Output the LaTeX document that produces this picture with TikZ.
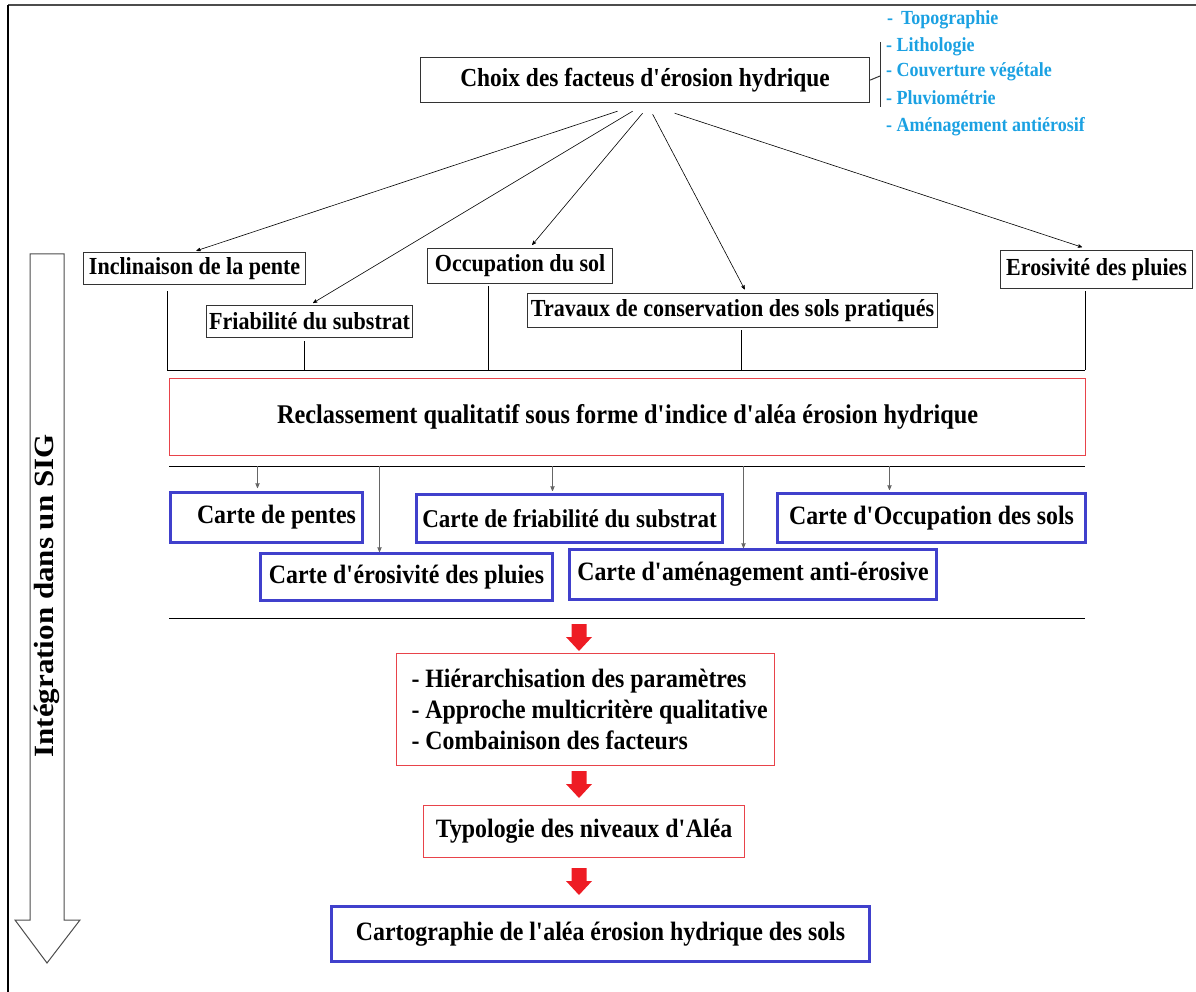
\documentclass[tikz,border=0pt]{standalone}
\usepackage{fontspec}
\setmainfont{Liberation Serif}[FakeStretch=0.9]
\usetikzlibrary{positioning, arrows, calc}
\definecolor{listblue}{HTML}{1BA1E2}
\definecolor{boxblue}{HTML}{4040CC}
\definecolor{boxred}{HTML}{E8434A}
\definecolor{arrred}{HTML}{EE1C24}
\newcommand{\ap}{\textquotesingle}

\begin{document}
\begin{tikzpicture}[x=1pt, y=-1pt, >=stealth',
    every node/.style={font=\bfseries\fontsize{26.5}{31}\selectfont, inner sep=0pt},
    small/.style={font=\bfseries\fontsize{24.5}{30}\selectfont},
    sz/.style 2 args={minimum width=#1pt, minimum height=#2pt},
    blk/.style={draw=black!80, line width=1.2pt, anchor=north west, small},
    redbox/.style={draw=boxred, line width=1.2pt, anchor=north west},
    bluebox/.style={draw=boxblue, line width=3pt, anchor=north west},
    item/.style={anchor=west, text=listblue, font=\bfseries\fontsize{20}{24}\selectfont},
    feed/.style={->, black, line width=0.6pt, shorten >=4pt},
    tick/.style={->, gray!80!black, line width=0.8pt},
    downarrow/.pic={\fill[arrred] (-7.5,0) -- (7.5,0) -- (7.5,13) -- (13,13) -- (0,27) -- (-13,13) -- (-7.5,13) -- cycle;}
  ]
  \useasboundingbox (0,0) rectangle (1196,992);

  % frame
  \draw[gray!60!black, line width=2pt] (8,5) -- (1196,5);
  \draw[line width=1.5pt] (8,5) -- (8,992);

  % factors
  \node[blk, sz={449}{45}, font=\bfseries\fontsize{26}{31}\selectfont] (choix) at (420,57) {Choix des facteus d\ap érosion hydrique};
  \coordinate (brk) at (880,76);
  \coordinate (brktop) at (880,42);
  \coordinate (brkbot) at (880,107);
  \draw[black!80, line width=1pt] (choix.east) -- (brk);
  \draw[black!80, line width=1pt] (brktop) -- (brkbot);
  \node[item] (topo) at (887,20) {-~\,Topographie};
  \node[item] (litho) at (886,47) {- Lithologie};
  \node[item] (couv) at (886,72) {- Couverture végétale};
  \node[item] (pluvio) at (886,98) {- Pluviométrie};
  \node[item] (amen) at (886,127) {- Aménagement antiérosif};

  % first row
  \node[blk, sz={222}{32}] (incl) at (83,252) {Inclinaison de la pente};
  \node[blk, sz={206}{32}] (friab) at (206,305) {Friabilité du substrat};
  \node[blk, sz={185}{35}] (occ) at (427,248) {Occupation du sol};
  \node[blk, sz={410}{34}] (trav) at (527,293) {Travaux de conservation des sols pratiqués};
  \node[blk, sz={192}{38}] (eros) at (1000,250) {Erosivité des pluies};

  \draw[feed] ([xshift=-27.5pt, yshift=-8pt]choix.south) -- ([xshift=-2pt]incl.north);
  \draw[feed] ([xshift=-12.5pt, yshift=-8pt]choix.south) -- (friab.north);
  \draw[feed] ([xshift=-2.5pt, yshift=-10pt]choix.south) -- ([xshift=9.5pt]occ.north);
  \draw[feed] ([xshift=7.5pt, yshift=-11pt]choix.south) -- ([xshift=14pt]trav.north);
  \draw[feed, shorten >=9pt] ([xshift=29.5pt, yshift=-10pt]choix.south) -- ([xshift=-6pt]eros.north);

  % collector
  \coordinate (busL) at (167,370);
  \coordinate (busR) at (1085,370);
  \draw[line width=1pt] (busL) -- (busR);
  \draw[line width=1pt] ([xshift=-27pt, yshift=-6pt]incl.south) -- ([xshift=-27pt]incl.south |- busL);
  \draw[line width=1pt] ([xshift=-5pt, yshift=-3pt]friab.south) -- ([xshift=-5pt]friab.south |- busL);
  \draw[line width=1pt] ([xshift=-31.5pt, yshift=-2pt]occ.south) -- ([xshift=-31.5pt]occ.south |- busL);
  \draw[line width=1pt] ([xshift=9pt, yshift=-2pt]trav.south) -- ([xshift=9pt]trav.south |- busL);
  \draw[line width=1pt] ([xshift=-11pt, yshift=-2pt]eros.south) -- ([xshift=-11pt]eros.south |- busL);

  \node[redbox, sz={916}{77}, font=\bfseries\fontsize{27}{31}\selectfont] (recl) at (169,378) {Reclassement qualitatif sous forme d\ap indice d\ap aléa érosion hydrique};

  % maps
  \coordinate (busML) at (169,466);
  \coordinate (busMR) at (1085,466);
  \draw[line width=1pt] (busML) -- (busMR);

  \node[bluebox, sz={192}{50}] (pentes) at (169,491) {\hspace*{20pt}Carte de pentes};
  \node[bluebox, sz={306}{48}, font=\bfseries\fontsize{25.6}{31}\selectfont] (cfriab) at (415,493) {Carte de friabilité du substrat};
  \node[bluebox, sz={308}{49}] (cocc) at (776,492) {Carte d\ap Occupation des sols};
  \node[bluebox, sz={292}{47}] (cerosiv) at (259,552) {Carte d\ap érosivité des pluies};
  \node[bluebox, sz={367}{50}] (camen) at (568,548) {Carte d\ap aménagement anti-érosive};

  \draw[tick] ([xshift=-9pt]pentes.north |- busML) -- ([xshift=-9pt, yshift=3pt]pentes.north);
  \draw[tick] ([xshift=-27pt]cerosiv.north |- busML) -- ([xshift=-27pt]cerosiv.north);
  \draw[tick] ([xshift=-17pt]cfriab.north |- busML) -- ([xshift=-17pt, yshift=2pt]cfriab.north);
  \draw[tick] ([xshift=-9.5pt]camen.north |- busML) -- ([xshift=-9.5pt]camen.north);
  \draw[tick] ([xshift=-42pt]cocc.north |- busML) -- ([xshift=-42pt, yshift=2pt]cocc.north);

  \coordinate (sepL) at (169,618);
  \coordinate (sepR) at (1085,618);
  \draw[line width=1pt] (sepL) -- (sepR);

  % synthesis
  \pic at (579,624) {downarrow};
  \node[redbox, sz={378}{112}, align=left] (hier) at (396,653) {\hspace*{8pt}- Hiérarchisation des paramètres\\\hspace*{8pt}- Approche multicritère qualitative\\\hspace*{8pt}- Combainison des facteurs};
  \pic at (579,771) {downarrow};
  \node[redbox, sz={321}{52}] (typo) at (423,805) {Typologie des niveaux d\ap Aléa};
  \pic at (579,868) {downarrow};
  \node[bluebox, sz={538}{55}] (carto) at (330,905) {Cartographie de l\ap aléa érosion hydrique des sols};

  % SIG arrow
  \draw[gray!60!black, line width=1pt] (30,254) -- (64,254) -- (64,920) -- (80,920) -- (47,963) -- (15,920) -- (30,920) -- cycle;
  \node[rotate=90] (sig) at (47,596) {\scalebox{1.3}[1.05]{Intégration dans un SIG}};
\end{tikzpicture}
\end{document}
